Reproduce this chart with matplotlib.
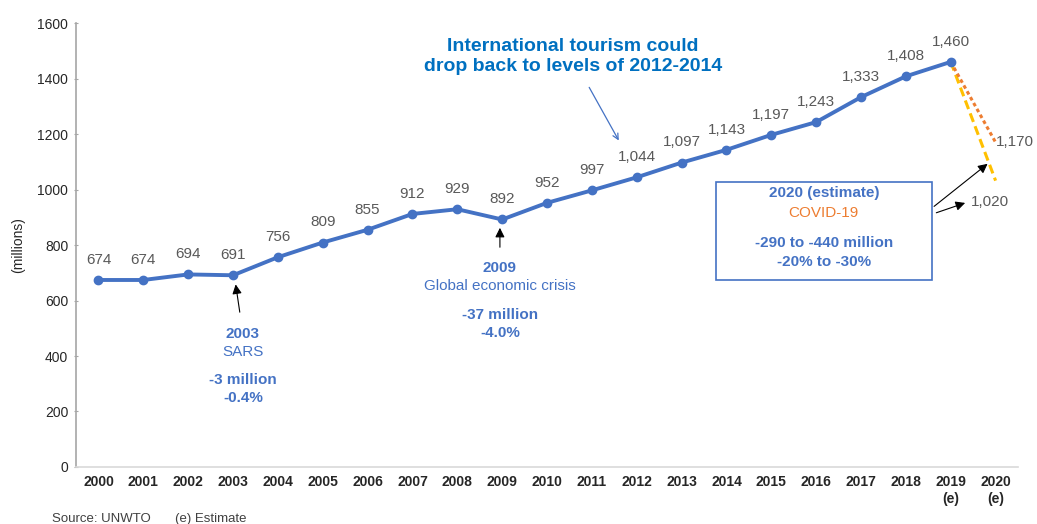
import matplotlib
matplotlib.use("Agg")
import matplotlib.pyplot as plt
from matplotlib.patches import Rectangle

plt.rcParams['font.family'] = ['Liberation Sans', 'DejaVu Sans']

years = ["2000", "2001", "2002", "2003", "2004", "2005", "2006", "2007", "2008", "2009",
         "2010", "2011", "2012", "2013", "2014", "2015", "2016", "2017", "2018", "2019\n(e)", "2020\n(e)"]
arrivals = [674, 674, 694, 691, 756, 809, 855, 912, 929, 892,
            952, 997, 1044, 1097, 1143, 1197, 1243, 1333, 1408, 1460]
scenario_high = [1460, 1170]   # 2019 -> 2020
scenario_low = [1460, 1020]
yticks = [0, 200, 400, 600, 800, 1000, 1200, 1400, 1600]

BLUE = "#4472C4"
TITLE_BLUE = "#0070C0"
ORANGE = "#ED7D31"
YELLOW = "#FFC000"
GRAY = "#595959"

fig = plt.figure(figsize=(10.37, 5.24), dpi=100)
ax = fig.add_axes([0.0733, 0.1088, 0.9084, 0.8472])

x = list(range(len(arrivals)))
ax.plot([19, 20], [scenario_low[0], scenario_low[1] + 12], color=YELLOW, lw=2.2, ls=(0, (3, 1.5)), zorder=2)
ax.plot([19, 20], scenario_high, color=ORANGE, lw=2.2, ls=(0, (1.2, 1.0)), zorder=2)
ax.plot(x, arrivals, color=BLUE, lw=2.8, marker='o', ms=6, zorder=3)

for xi, v in zip(x, arrivals):
    ax.annotate(f"{v:,}", (xi, v), xytext=(0, 14.5), textcoords='offset points',
                ha='center', va='center', fontsize=11, color=GRAY)

ax.text(20.0, scenario_high[1], f"{scenario_high[1]:,}", ha='left', va='center', fontsize=11, color=GRAY)
ax.text(19.45, 955, f"{scenario_low[1]:,}", ha='left', va='center', fontsize=11, color=GRAY)

ax.set_xlim(-0.5, 20.5)
ax.set_ylim(0, 1600)
ax.set_xticks(range(len(years)))
ax.set_xticklabels(years, fontsize=10, color="#262626", fontweight='bold')
ax.set_yticks(yticks)
ax.set_yticklabels([str(t) for t in yticks], fontsize=10, color="#262626")
ax.tick_params(axis='x', length=0, pad=6)
ax.tick_params(axis='y', length=3, direction='inout', color="#A6A6A6", pad=4)
for s in ['top', 'right']:
    ax.spines[s].set_visible(False)
ax.spines['left'].set_color("#A6A6A6")
ax.spines['bottom'].set_color("#D9D9D9")
ax.spines['left'].set_linewidth(1.2)
ax.spines['bottom'].set_linewidth(1.2)

fig.text(0.017, 1 - 245 / 524, "(millions)", rotation=90, ha='center', va='center', fontsize=10, color="#262626")
fig.text(52 / 1037, 1 - 519 / 524, "Source: UNWTO", ha='left', va='center', fontsize=9.5, color="#404040")
fig.text(175 / 1037, 1 - 519 / 524, "(e) Estimate", ha='left', va='center', fontsize=9.5, color="#404040")

# title annotation
ax.text(10.58, 1480, "International tourism could\ndrop back to levels of 2012-2014",
        ha='center', va='center', fontsize=14, fontweight='bold', color=TITLE_BLUE, linespacing=1.2)
ax.annotate("", xy=(11.63, 1168), xytext=(10.91, 1377),
            arrowprops=dict(arrowstyle='->', color=BLUE, lw=0.9))

# 2003 SARS
ax.text(3.22, 479, "2003", ha='center', va='center', fontsize=11, fontweight='bold', color=BLUE)
ax.text(3.22, 414, "SARS", ha='center', va='center', fontsize=11, color=BLUE)
ax.text(3.22, 313, "-3 million", ha='center', va='center', fontsize=11, fontweight='bold', color=BLUE)
ax.text(3.22, 249, "-0.4%", ha='center', va='center', fontsize=11, fontweight='bold', color=BLUE)
ax.annotate("", xy=(3.05, 668), xytext=(3.16, 548),
            arrowprops=dict(arrowstyle='-|>', color='black', lw=0.8, mutation_scale=14))

# 2009 crisis
ax.text(8.95, 717, "2009", ha='center', va='center', fontsize=11, fontweight='bold', color=BLUE)
ax.text(8.95, 652, "Global economic crisis", ha='center', va='center', fontsize=11, color=BLUE)
ax.text(8.95, 548, "-37 million", ha='center', va='center', fontsize=11, fontweight='bold', color=BLUE)
ax.text(8.95, 483, "-4.0%", ha='center', va='center', fontsize=11, fontweight='bold', color=BLUE)
ax.annotate("", xy=(8.95, 872), xytext=(8.95, 782),
            arrowprops=dict(arrowstyle='-|>', color='black', lw=0.8, mutation_scale=14))

# 2020 box
ax.add_patch(Rectangle((13.77, 674), 18.58 - 13.77, 1027 - 674, fill=False,
                       edgecolor=BLUE, lw=1.2, zorder=4))
ax.text(16.17, 987, "2020 (estimate)", ha='center', va='center', fontsize=11, fontweight='bold', color=BLUE)
ax.text(16.17, 915, "COVID-19", ha='center', va='center', fontsize=11, color=ORANGE)
ax.text(16.17, 807, "-290 to -440 million", ha='center', va='center', fontsize=11, fontweight='bold', color=BLUE)
ax.text(16.17, 739, "-20% to -30%", ha='center', va='center', fontsize=11, fontweight='bold', color=BLUE)
ax.annotate("", xy=(19.87, 1099), xytext=(18.58, 933),
            arrowprops=dict(arrowstyle='-|>', color='black', lw=0.8, mutation_scale=14))
ax.annotate("", xy=(19.38, 955), xytext=(18.62, 913),
            arrowprops=dict(arrowstyle='-|>', color='black', lw=0.8, mutation_scale=14))

fig.savefig("out.png", dpi=100)
